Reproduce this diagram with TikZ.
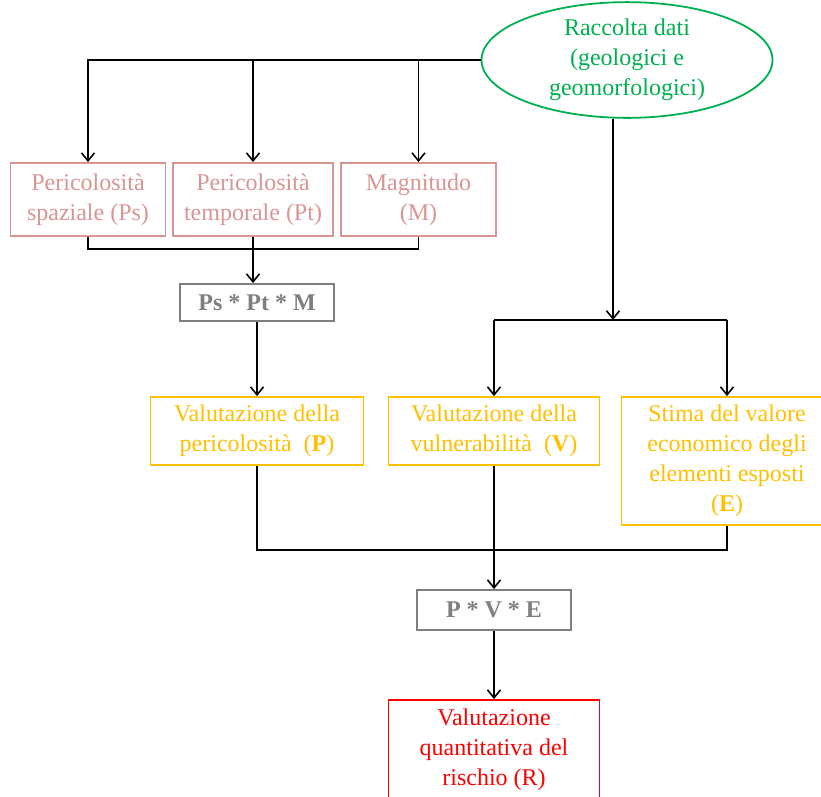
\documentclass[tikz,border=0pt]{standalone}
\usepackage{fontspec}
\setmainfont{Liberation Serif}
\usetikzlibrary{shapes.geometric,arrows.meta}
\definecolor{pinkc}{HTML}{D99594}
\definecolor{greenc}{HTML}{00B050}
\definecolor{goldc}{HTML}{FFC000}
\definecolor{grayc}{HTML}{7F7F7F}
\definecolor{redc}{HTML}{FF0000}
\tikzset{
  base/.style={draw, line width=1.8pt, align=center, inner sep=0pt,
    font=\fontsize{24}{30}\selectfont},
  pinkbox/.style={base, rectangle, draw=pinkc, text=pinkc, minimum height=73pt},
  goldbox/.style={base, rectangle, draw=goldc, text=goldc, minimum width=211pt},
  graybox/.style={base, rectangle, draw=grayc, text=grayc, minimum width=154pt,
    font=\fontsize{24}{30}\selectfont\bfseries},
  redbox/.style={base, rectangle, draw=redc, text=redc, minimum width=211pt, minimum height=100pt},
  greenell/.style={base, ellipse, draw=greenc, text=greenc, minimum width=291pt, minimum height=100pt},
  conn/.style={line width=1.8pt, black},
  arr/.style={conn, -{Straight Barb[length=8pt,width=13pt,line width=1.6pt]}}
}
\begin{document}
\begin{tikzpicture}[x=1pt,y=1pt]
\useasboundingbox[fill=white] (0,0) rectangle (821,-796);

\node[greenell] (ell) at (627,-60) {Raccolta dati\\(geologici e\\geomorfologici)};

\node[pinkbox, minimum width=155pt] (ps) at (88,-199.5) {Pericolosità\\spaziale (Ps)};
\node[pinkbox, minimum width=160pt] (pt) at (253,-199.5) {Pericolosità\\temporale (Pt)};
\node[pinkbox, minimum width=155pt] (m) at (418.5,-199.5) {Magnitudo\\(M)};

\node[graybox, minimum height=37pt] (psm) at (257,-302.5) {Ps * Pt * M};

\node[goldbox, minimum width=213pt, minimum height=68pt] (p) at (257,-431) {Valutazione della\\pericolosità\ \ (\textbf{P})};
\node[goldbox, minimum height=68pt] (v) at (494,-431) {Valutazione della\\vulnerabilità\ \ (\textbf{V})};
\node[goldbox, minimum height=128pt] (e) at (727,-461) {Stima del valore\\economico degli\\elementi esposti\\(\textbf{E})};

\node[graybox, minimum height=40pt] (pve) at (494,-610) {P * V * E};

\node[redbox] (r) at (494,-750) {Valutazione\\quantitativa del\\rischio (R)};

% top distribution
\draw[arr] (ell.west) -| (ps.north);
\draw[arr] (pt.north |- ell.west) -- (pt.north);
\draw[arr] (m.north |- ell.west) -- (m.north);

% collect hazard factors
\coordinate (hz) at (253,-249);
\draw[conn] (ps.south) |- (hz) -| (m.south);
\draw[arr] (pt.south) -- (pt.south |- psm.north);
\draw[arr] (psm.south) -- (p.north);

% right branch
\coordinate (split) at (613,-320);
\draw[arr] ([xshift=-14pt]ell.south) -- (split);
\draw[conn] (v.north |- split) -- (e.north |- split);
\draw[arr] (v.north |- split) -- (v.north);
\draw[arr] (e.north |- split) -- (e.north);

% join
\coordinate (jn) at (494,-550);
\draw[conn] (p.south) |- (jn) -| (e.south);
\draw[arr] (v.south) -- (pve.north);
\draw[arr] (pve.south) -- (r.north);
\end{tikzpicture}
\end{document}
